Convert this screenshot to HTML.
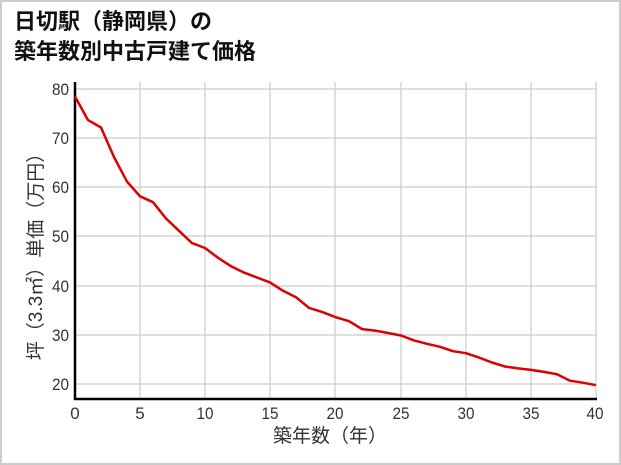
<!DOCTYPE html><html><head><meta charset="utf-8"><style>body{margin:0;background:#fff}svg{display:block}</style></head><body>
<svg width="621" height="465" xmlns="http://www.w3.org/2000/svg" font-family="Liberation Sans, Noto Sans CJK JP, sans-serif">
<rect x="1" y="1" width="619" height="463" fill="#fff" stroke="#ccc" stroke-width="2"/>
<text x="14" y="29" font-size="22" font-weight="bold" fill="#111">日切駅（静岡県）の</text>
<text x="14" y="59" font-size="22" font-weight="bold" fill="#111">築年数別中古戸建て価格</text>
<g stroke="#ccc" stroke-width="1.2">
<line x1="75" y1="89" x2="596" y2="89"/><line x1="75" y1="138" x2="596" y2="138"/><line x1="75" y1="187" x2="596" y2="187"/><line x1="75" y1="236" x2="596" y2="236"/><line x1="75" y1="286" x2="596" y2="286"/><line x1="75" y1="335" x2="596" y2="335"/><line x1="75" y1="384" x2="596" y2="384"/>
<line x1="140" y1="82" x2="140" y2="399"/><line x1="205" y1="82" x2="205" y2="399"/><line x1="270" y1="82" x2="270" y2="399"/><line x1="335" y1="82" x2="335" y2="399"/><line x1="401" y1="82" x2="401" y2="399"/><line x1="466" y1="82" x2="466" y2="399"/><line x1="531" y1="82" x2="531" y2="399"/><line x1="596" y1="82" x2="596" y2="399"/>
</g>
<g stroke="#000" stroke-width="2.5"><line x1="75" y1="82" x2="75" y2="400"/><line x1="74" y1="399" x2="597" y2="399"/></g>
<g font-size="17" fill="#333" text-anchor="end"><text x="69" y="95" textLength="17" lengthAdjust="spacingAndGlyphs">80</text><text x="69" y="144" textLength="17" lengthAdjust="spacingAndGlyphs">70</text><text x="69" y="193" textLength="17" lengthAdjust="spacingAndGlyphs">60</text><text x="69" y="242" textLength="17" lengthAdjust="spacingAndGlyphs">50</text><text x="69" y="292" textLength="17" lengthAdjust="spacingAndGlyphs">40</text><text x="69" y="341" textLength="17" lengthAdjust="spacingAndGlyphs">30</text><text x="69" y="390" textLength="17" lengthAdjust="spacingAndGlyphs">20</text></g>
<g font-size="17" fill="#333" text-anchor="middle"><text x="75" y="419">0</text><text x="140" y="419">5</text><text x="205" y="419" textLength="17" lengthAdjust="spacingAndGlyphs">10</text><text x="270" y="419" textLength="17" lengthAdjust="spacingAndGlyphs">15</text><text x="335" y="419" textLength="17" lengthAdjust="spacingAndGlyphs">20</text><text x="401" y="419" textLength="17" lengthAdjust="spacingAndGlyphs">25</text><text x="466" y="419" textLength="17" lengthAdjust="spacingAndGlyphs">30</text><text x="531" y="419" textLength="17" lengthAdjust="spacingAndGlyphs">35</text><text x="595" y="419" textLength="17" lengthAdjust="spacingAndGlyphs">40</text></g>
<text x="330" y="442" font-size="19" fill="#333" text-anchor="middle">築年数（年）</text>
<text transform="translate(42,252) rotate(-90)" font-size="19" fill="#333" text-anchor="middle">坪（3.3㎡）単価（万円）</text>
<polyline fill="none" stroke="#d00" stroke-width="2.5" stroke-linejoin="round" points="75,96.5 88,120.1 101,127.5 114,157 127,181.6 140,196.3 153,202.2 166,218.5 179,230.8 192,243.1 205,248 218,257.8 231,266.2 244,272.6 257,277.5 270,282.4 283,290.8 296,297.2 309,307.9 322,311.9 336,317.3 349,321.2 362,329.1 375,330.6 388,333 401,335.5 414,340.4 427,343.8 440,346.8 453,351.2 466,353.2 479,357.6 492,362.5 505,366.5 518,368.4 531,369.9 544,371.9 557,374.3 570,380.7 583,382.7 596,385.2"/>
</svg></body></html>
